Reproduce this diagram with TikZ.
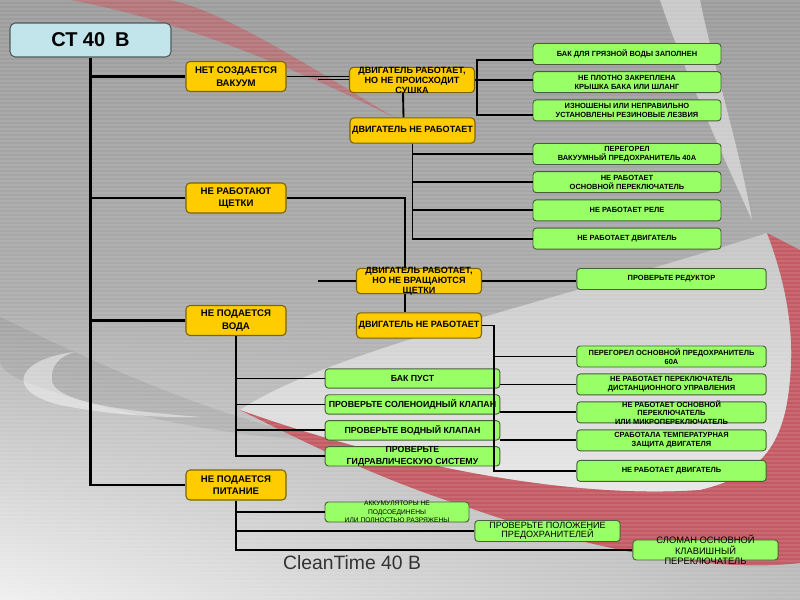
\documentclass[tikz,border=0pt]{standalone}
\usepackage{fontspec}
\setmainfont{Liberation Sans}
\usetikzlibrary{positioning,calc,shadings}

\definecolor{yfill}{HTML}{FFCC00}
\definecolor{yedge}{HTML}{7A6500}
\definecolor{gfill}{HTML}{99FF66}
\definecolor{gedge}{HTML}{47603A}
\definecolor{rootfill}{HTML}{C2E5EB}
\definecolor{rootedge}{HTML}{4F5A5C}
\definecolor{swoosh}{HTML}{C45B64}
\definecolor{bgtop}{HTML}{9C9C9C}
\definecolor{bgmid}{HTML}{ACACAC}
\definecolor{bglight}{HTML}{F0F0F0}
\definecolor{bgright}{HTML}{BBBBBB}
\definecolor{bgpale}{HTML}{C6C6C6}
\definecolor{bgwhite}{HTML}{E8E8E8}

\begin{document}
\begin{tikzpicture}[x=0.75pt,y=-0.75pt,
    rootbox/.style={draw=rootedge, fill=rootfill, line width=0.8pt, rounded corners=4pt, minimum width=120.75pt, minimum height=25.5pt, inner sep=0pt, font=\bfseries\fontsize{15}{18}\selectfont},
    ybox/.style={draw=yedge, fill=yfill, line width=0.8pt, rounded corners=3pt, align=center, inner sep=0pt, minimum width=75pt, minimum height=22.5pt, font=\bfseries\fontsize{7.2}{9.5}\selectfont},
    mbox/.style={ybox, minimum width=93.75pt, minimum height=19pt, font=\bfseries\fontsize{6.8}{7.5}\selectfont},
    ylab/.style={align=center, inner sep=0pt, font=\bfseries\fontsize{6.8}{7.5}\selectfont},
    gbox/.style={draw=gedge, fill=gfill, line width=0.7pt, rounded corners=2.5pt, align=center, inner sep=0pt, minimum height=15.75pt, font=\bfseries\fontsize{5.6}{6.6}\selectfont},
    lbox/.style={gbox, minimum width=131pt, minimum height=14.5pt, font=\bfseries\fontsize{6.6}{7}\selectfont},
    glab/.style={align=center, inner sep=0pt, font=\bfseries\fontsize{5.6}{6.4}\selectfont},
    link/.style={line width=1.4pt, black},
    trunk/.style={link, line width=1.8pt}]
  \useasboundingbox (0,0) rectangle (800,600);
  %background
  \shade[top color=bgtop, bottom color=bgmid] (0,0) rectangle (800,300);
  \shade[upper left=bgmid, upper right=bgmid, lower left=bglight, lower right=bgright] (0,300) rectangle (800,600);
  \fill[black, opacity=0.07] (0,317) .. controls (100,365) and (220,420) .. (330,440) .. controls (250,440) and (150,420) .. (80,400) .. controls (30,385) and (0,375) .. (0,360) -- cycle;%dark band
  \fill[white, opacity=0.45] (75,352) .. controls (20,358) and (0,390) .. (60,405) .. controls (100,413) and (150,418) .. (200,417) .. controls (140,412) and (60,405) .. (52,382) .. controls (50,365) and (60,356) .. (75,352) -- cycle;%left swoosh
  \shade[top color=bgpale, bottom color=bgwhite] (240,410) .. controls (330,350) and (560,300) .. (767,233) .. controls (785,280) and (795,330) .. (790,380) .. controls (785,440) and (765,475) .. (700,490) .. controls (560,500) and (380,460) .. (240,410) -- cycle;%light area
  \fill[swoosh] (767,233) .. controls (785,280) and (795,330) .. (790,380) .. controls (785,440) and (765,475) .. (700,490) .. controls (560,500) and (380,460) .. (240,410) .. controls (300,440) and (380,480) .. (470,508) .. controls (560,540) and (700,575) .. (800,563) -- (800,250) -- cycle;%red band
  \fill[white, opacity=0.45] (660,0) .. controls (680,60) and (720,150) .. (752,220) .. controls (740,150) and (712,60) .. (700,0) -- cycle;%top right swoosh
  \fill[swoosh, opacity=0.6] (70,0) .. controls (180,20) and (300,70) .. (395,118) .. controls (300,60) and (220,10) .. (170,0) -- cycle;%top red streak
  \foreach \y in {1,5,...,600}
    \draw[white, opacity=0.09, line width=0.9pt] (0,\y) -- (800,\y);%stripes

  %root and the four problems
  \node (root) [rootbox] at (90.5,40) {СТ 40\enspace В};
  \node (y1) [ybox] at (236,76.5) {НЕТ СОЗДАЕТСЯ\\ВАКУУМ};
  \node (y2) [ybox] at (236,198) {НЕ РАБОТАЮТ\\ЩЕТКИ};
  \node (y3) [ybox] at (236,320.5) {НЕ ПОДАЕТСЯ\\ВОДА};
  \node (y4) [ybox] at (236,485) {НЕ ПОДАЕТСЯ\\ПИТАНИЕ};
  %motor boxes
  \node (y5) [mbox, label={[ylab]center:{ДВИГАТЕЛЬ РАБОТАЕТ,\\НО НЕ ПРОИСХОДИТ\\СУШКА}}] at (412,80) {};
  \node (y6) [mbox] at (412.5,130.5) {ДВИГАТЕЛЬ НЕ РАБОТАЕТ};
  \node (y7) [mbox, label={[ylab]center:{ДВИГАТЕЛЬ РАБОТАЕТ,\\НО НЕ ВРАЩАЮТСЯ\\ЩЕТКИ}}] at (419,281) {};
  \node (y8) [mbox] at (419,325.5) {ДВИГАТЕЛЬ НЕ РАБОТАЕТ};

  %causes, top column
  \node (g1) [gbox, minimum width=141pt] at (627,54) {БАК ДЛЯ ГРЯЗНОЙ ВОДЫ ЗАПОЛНЕН};
  \node (g2) [gbox, minimum width=141pt, below=4.7pt of g1] {НЕ ПЛОТНО ЗАКРЕПЛЕНА\\КРЫШКА БАКА ИЛИ ШЛАНГ};
  \node (g3) [gbox, minimum width=141pt, below=4.7pt of g2] {ИЗНОШЕНЫ ИЛИ НЕПРАВИЛЬНО\\УСТАНОВЛЕНЫ РЕЗИНОВЫЕ ЛЕЗВИЯ};
  \node (g4) [gbox, minimum width=141pt] at (627,154) {ПЕРЕГОРЕЛ\\ВАКУУМНЫЙ ПРЕДОХРАНИТЕЛЬ 40А};
  \node (g5) [gbox, minimum width=141pt, below=4.7pt of g4] {НЕ РАБОТАЕТ\\ОСНОВНОЙ ПЕРЕКЛЮЧАТЕЛЬ};
  \node (g6) [gbox, minimum width=141pt, below=4.7pt of g5] {НЕ РАБОТАЕТ РЕЛЕ};
  \node (g7) [gbox, minimum width=141pt, below=4.7pt of g6] {НЕ РАБОТАЕТ ДВИГАТЕЛЬ};
  %causes, lower column
  \node (g8) [gbox, minimum width=142pt] at (671.5,279) {ПРОВЕРЬТЕ РЕДУКТОР};
  \node (g9) [gbox, minimum width=142pt] at (671.5,356.5) {ПЕРЕГОРЕЛ ОСНОВНОЙ ПРЕДОХРАНИТЕЛЬ\\60А};
  \node (g10) [gbox, minimum width=142pt, below=4.5pt of g9] {НЕ РАБОТАЕТ ПЕРЕКЛЮЧАТЕЛЬ\\ДИСТАНЦИОННОГО УПРАВЛЕНИЯ};
  \node (g11) [gbox, minimum width=142pt, below=4.5pt of g10, label={[glab]center:{НЕ РАБОТАЕТ ОСНОВНОЙ\\ПЕРЕКЛЮЧАТЕЛЬ\\ИЛИ МИКРОПЕРЕКЛЮЧАТЕЛЬ}}] {};
  \node (g12) [gbox, minimum width=142pt, below=4.5pt of g11] {СРАБОТАЛА ТЕМПЕРАТУРНАЯ\\ЗАЩИТА ДВИГАТЕЛЯ};
  \node (g13) [gbox, minimum width=142pt, below=6.5pt of g12] {НЕ РАБОТАЕТ ДВИГАТЕЛЬ};

  %connectors
  \draw[trunk] (root) |- (y1);
  \draw[trunk] (root) |- (y2);
  \draw[trunk] (root) |- (y3);
  \draw[trunk] (root) |- (y4);
  \draw[link] (y1.east) -- (y1.east -| y5.west);
  \coordinate (s1) at (318,79.5);
  \draw[link] (s1) -- (s1 -| y5.west);
  \draw[link] ($(y5.south)+(-9,0)$) -- ($(y6.north)+(-9,0)$);
  \coordinate (b1) at (477,79.5);
  \draw[link] (y5.east) -- (y5.east -| g2.west);
  \draw[link] ($(g1.west)+(0,6)$) -| (b1) |- ($(g3.west)+(0,4.5)$);
  \draw[link] (y6) |- (g4);
  \draw[link] (y6) |- (g5);
  \draw[link] (y6) |- (g6);
  \draw[link] (y6) |- (g7);
  \draw[link] (y2.east) -| ($(y7.north)+(-14,0)$);
  \coordinate (s2) at (318,281);
  \draw[link] (s2) -- (y7.west);
  \draw[link] (y7.east) -- (y7.east -| g8.west);
  \draw[link] ($(y7.south)+(-14,0)$) -- ($(y8.north)+(-14,0)$);

  %water branch
  \node (l1) [lbox] at (412.5,378.5) {БАК ПУСТ};
  \node (l2) [lbox, below=4.25pt of l1] {ПРОВЕРЬТЕ СОЛЕНОИДНЫЙ КЛАПАН};
  \node (l3) [lbox, below=4.25pt of l2] {ПРОВЕРЬТЕ ВОДНЫЙ КЛАПАН};
  \node (l4) [lbox, below=4.25pt of l3, label={[glab, font=\bfseries\fontsize{6.6}{9}\selectfont]center:{ПРОВЕРЬТЕ\\ГИДРАВЛИЧЕСКУЮ СИСТЕМУ}}] {};
  \draw[link] (y3) |- (l1);
  \draw[link] (y3) |- (l2);
  \draw[link] (y3) |- (l3);
  \draw[link] (y3) |- (l4);
  \coordinate (b2) at (494,325.5);
  \draw[link] (y8.east) -- (b2) |- (g13);
  \draw[link] (b2) |- (g9);
  \draw[link] (l1.east |- g10) -- (g10);
  \draw[link] (l2.east |- g11) -- (g11);
  \draw[link] (l3.east |- g12) -- (g12);

  %power branch
  \node (g14) [gbox, minimum width=108pt, minimum height=15pt, label={[glab, font=\fontsize{5}{6.3}\selectfont]center:{АККУМУЛЯТОРЫ НЕ\\ПОДСОЕДИНЕНЫ\\ИЛИ ПОЛНОСТЬЮ РАЗРЯЖЕНЫ}}] at (397,512) {};
  \node (g15) [gbox, minimum width=109pt, font=\fontsize{6.8}{6.9}\selectfont] at (547.5,531) {ПРОВЕРЬТЕ ПОЛОЖЕНИЕ\\ПРЕДОХРАНИТЕЛЕЙ};
  \node (g16) [gbox, minimum width=109pt, minimum height=15pt, label={[glab, font=\fontsize{7}{7.9}\selectfont]center:{СЛОМАН ОСНОВНОЙ\\КЛАВИШНЫЙ\\ПЕРЕКЛЮЧАТЕЛЬ}}] at (705.5,550) {};
  \draw[link] (y4) |- (g14);
  \draw[link] (y4) |- (g15);
  \draw[link] (y4) |- (g16);

  \node (title) [font=\fontsize{14.5}{16}\selectfont, text=black!80] at (352,563) {CleanTime 40 B};
\end{tikzpicture}
\end{document}
